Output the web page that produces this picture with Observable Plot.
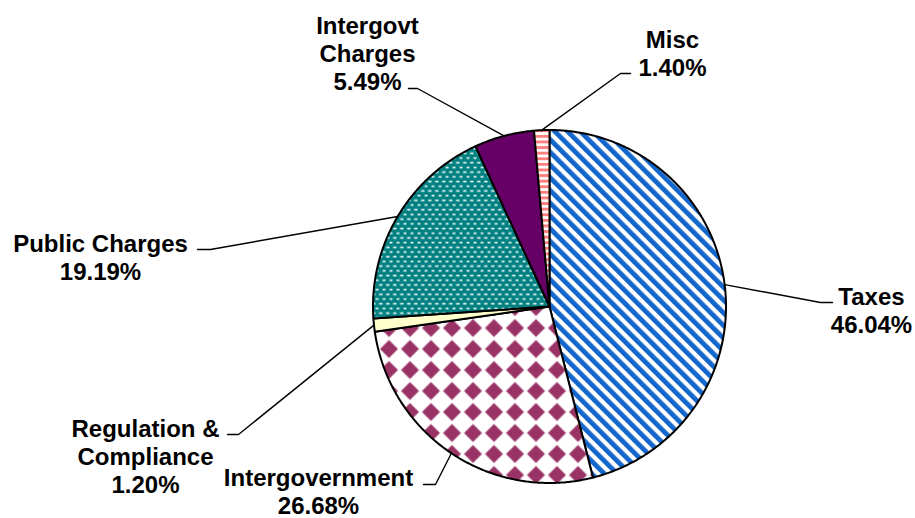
<!DOCTYPE html>
<html>
<head>
<meta charset="utf-8">
<script src="https://cdn.jsdelivr.net/npm/d3@7"></script>
<script src="https://cdn.jsdelivr.net/npm/@observablehq/plot@0.6"></script>
<style>
  html, body { margin: 0; padding: 0; background: #fff; }
  #chart { width: 915px; height: 518px; }
</style>
</head>
<body>
<div id="chart"></div>
<script>
// ---- data ----
const categories = ["Taxes", "Intergovernment", "Regulation & Compliance", "Public Charges", "Intergovt Charges", "Misc"];
const values = [46.04, 26.68, 1.20, 19.19, 5.49, 1.40];
const nameLines = [["Taxes"], ["Intergovernment"], ["Regulation &", "Compliance"], ["Public Charges"], ["Intergovt", "Charges"], ["Misc"]];

// ---- layout / style (pixel frame of the 915x518 picture) ----
const W = 915, H = 518;
const pie = {cx: 549, cy: 306, r: 176.5};
const fills = ["url(#pTax)", "url(#pGov)", "#ffffcc", "url(#pPub)", "#660066", "url(#pMisc)"];
// label: center x, first baseline y ; leader: elbow point, end point
const labelPos = [[871, 302], [318, 483], [145, 434], [100, 249], [367, 31], [672, 45]];
const leaderElbow = [[820, 302], [435, 484], [238, 434], [210, 249], [417, 88], [620, 73]];
const leaderEnd = [[832, 302], [423, 484], [227, 434], [197, 249], [408, 88], [630, 73]];
const fontSize = 24, lineGap = 28;

const arcs = d3.pie().sort(null).value(d => d)(values);
const pt = (a, rr) => ({x: pie.cx + rr * Math.sin(a), y: pie.cy - rr * Math.cos(a)});

const slices = arcs.map((a, i) => {
  const pts = [{x: pie.cx, y: pie.cy}];
  const n = Math.max(2, Math.ceil((a.endAngle - a.startAngle) / (Math.PI / 360)));
  for (let k = 0; k <= n; k++) pts.push(pt(a.startAngle + (a.endAngle - a.startAngle) * k / n, pie.r));
  pts.push({x: pie.cx, y: pie.cy});
  return pts;
});

const leaders = arcs.flatMap((a, i) => {
  const m = pt((a.startAngle + a.endAngle) / 2, pie.r);
  return [
    {i, x: m.x, y: m.y},
    {i, x: leaderElbow[i][0], y: leaderElbow[i][1]},
    {i, x: leaderEnd[i][0], y: leaderEnd[i][1]}
  ];
});

const labels = categories.map((c, i) => ({
  x: labelPos[i][0],
  y: labelPos[i][1] - 0.71 * fontSize,
  text: [...nameLines[i], d3.format(".2f")(values[i]) + "%"].join("\n")
}));

function defs() {
  const g = d3.create("svg:g");
  const d = g.append("defs");
  // Taxes: blue downward diagonal stripes
  const t = d.append("pattern").attr("id", "pTax").attr("patternUnits", "userSpaceOnUse")
    .attr("width", 9).attr("height", 9).attr("patternTransform", "rotate(-45)");
  t.append("rect").attr("width", 9).attr("height", 9).attr("fill", "#fff");
  t.append("rect").attr("width", 4.8).attr("height", 9).attr("fill", "#1366cc");
  // Intergovernment: diamonds
  const gv = d.append("pattern").attr("id", "pGov").attr("patternUnits", "userSpaceOnUse")
    .attr("width", 21).attr("height", 21).attr("x", 0).attr("y", 2);
  gv.append("rect").attr("width", 21).attr("height", 21).attr("fill", "#fff");
  gv.append("path").attr("d", "M10.5,1.5 L19.5,10.5 L10.5,19.5 L1.5,10.5Z").attr("fill", "#993366");
  // Public Charges: teal with white dashes (brick)
  const p = d.append("pattern").attr("id", "pPub").attr("patternUnits", "userSpaceOnUse")
    .attr("width", 7).attr("height", 9.4);
  p.append("rect").attr("width", 7).attr("height", 9.4).attr("fill", "#008080");
  p.append("rect").attr("x", 0.6).attr("y", 1.6).attr("width", 3.4).attr("height", 1.7).attr("fill", "#e6f6f4");
  p.append("rect").attr("x", 4.1).attr("y", 6.3).attr("width", 3.4).attr("height", 1.7).attr("fill", "#e6f6f4");
  // Misc: pink horizontal stripes
  const m = d.append("pattern").attr("id", "pMisc").attr("patternUnits", "userSpaceOnUse")
    .attr("width", 6).attr("height", 5.6);
  m.append("rect").attr("width", 6).attr("height", 5.6).attr("fill", "#fff");
  m.append("rect").attr("width", 6).attr("height", 2.9).attr("fill", "#ff7f7f");
  return g.node();
}

const chart = Plot.plot({
  width: W,
  height: H,
  margin: 0,
  x: {type: "linear", domain: [0, W], range: [0, W], axis: null},
  y: {type: "linear", domain: [0, H], range: [0, H], axis: null},
  style: {fontFamily: "'Liberation Sans', Arial, sans-serif", background: "#fff", overflow: "visible"},
  marks: [
    defs,
    ...slices.map((s, i) => Plot.line(s, {x: "x", y: "y", fill: fills[i], stroke: "#000", strokeWidth: 2, strokeLinejoin: "round"})),
    Plot.line(leaders, {x: "x", y: "y", z: "i", stroke: "#000", strokeWidth: 1.4}),
    Plot.text(labels, {x: "x", y: "y", text: "text", textAnchor: "middle", lineAnchor: "top",
      lineHeight: lineGap / fontSize, fontSize: fontSize, fontWeight: "bold", fill: "#000"})
  ]
});
document.getElementById("chart").appendChild(chart);
</script>
</body>
</html>
